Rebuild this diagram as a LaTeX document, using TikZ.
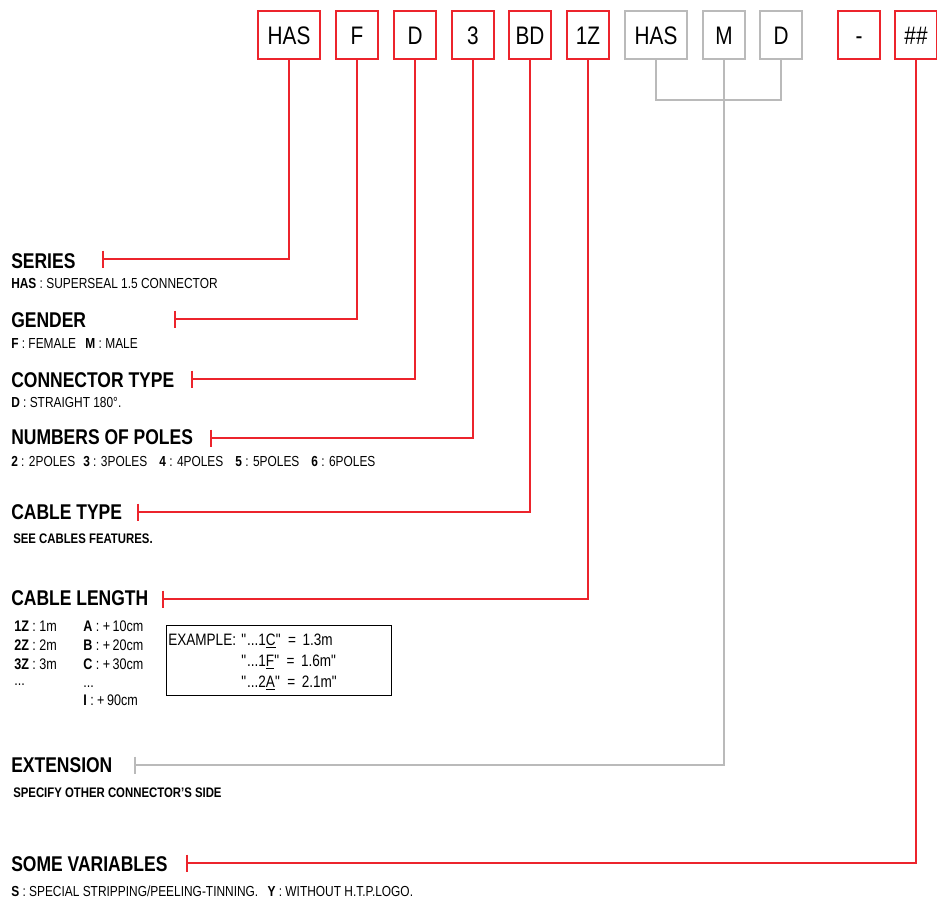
\documentclass[tikz,border=0pt]{standalone}
\usepackage{fontspec}
\setmainfont[FakeStretch=0.82]{Liberation Sans}
\definecolor{hred}{RGB}{236,36,44}
\definecolor{hgray}{RGB}{186,186,186}
\newcommand{\qq}{\textquotedbl}
\begin{document}
\begin{tikzpicture}[x=0.75pt,y=-0.75pt,
  codebox/.style={draw=hred,line width=0.9pt,minimum height=36pt,inner sep=0pt,
    font=\fontsize{19}{19}\selectfont,text height=13.6pt,text depth=0pt},
  wide/.style={minimum width=46.5pt},
  narrow/.style={minimum width=31.5pt},
  graybox/.style={draw=hgray},
  head/.style={anchor=base west,inner sep=0pt,font=\bfseries\fontsize{16}{16}\selectfont},
  desc/.style={anchor=base west,inner sep=0pt,font=\fontsize{10.9}{12}\selectfont},
  tdesc/.style={anchor=base west,inner sep=0pt,font=\fontsize{11.5}{12}\selectfont},
  bdesc/.style={anchor=base west,inner sep=0pt,font=\bfseries\fontsize{10.4}{12}\selectfont},
  extext/.style={anchor=base west,inner sep=0pt,font=\fontsize{12.4}{14}\selectfont},
  lead/.style={draw=hred,line width=0.95pt},
  leadg/.style={draw=hgray,line width=0.95pt},
]
\useasboundingbox (0,0) rectangle (937,899);

% code boxes
\node[codebox,wide]   (bHAS)  at (289,35) {HAS};
\node[codebox,narrow] (bF)    at (357,35) {F};
\node[codebox,narrow] (bD)    at (415,35) {D};
\node[codebox,narrow] (b3)    at (473,35) {3};
\node[codebox,narrow] (bBD)   at (530,35) {BD};
\node[codebox,narrow] (b1Z)   at (588,35) {1Z};
\node[codebox,wide,graybox]   (bHAS2) at (656,35) {HAS};
\node[codebox,narrow,graybox] (bM)    at (724,35) {M};
\node[codebox,narrow,graybox] (bD2)   at (781,35) {D};
\node[codebox,narrow] (bdash) at (859,35) {-};
\node[codebox,narrow] (bvar)  at (916,35) {\#\#};

% tick coordinates
\coordinate (tSER) at (103,259);
\coordinate (tGEN) at (175,319);
\coordinate (tCON) at (192,379);
\coordinate (tPOL) at (211,438);
\coordinate (tCTY) at (138,512);
\coordinate (tCLE) at (163,599);
\coordinate (tEXT) at (135,765);
\coordinate (tVAR) at (187,863);
\coordinate (br)   at (700,100);

% leaders
\draw[lead] (bHAS.south) |- (tSER);
\draw[lead] (bF.south) |- (tGEN);
\draw[lead] (bD.south) |- (tCON);
\draw[lead] (b3.south) |- (tPOL);
\draw[lead] (bBD.south) |- (tCTY);
\draw[lead] (b1Z.south) |- (tCLE);
\draw[lead] (bvar.south) |- (tVAR);
\draw[leadg] (bHAS2.south) |- (br) -| (bD2.south);
\draw[leadg] (bM.south) |- (tEXT);
\foreach \t in {tSER,tGEN,tCON,tPOL,tCTY,tCLE,tVAR}
  \draw[lead] (\t) ++(0,-8.5) -- ++(0,17);
\draw[leadg] (tEXT) ++(0,-8.5) -- ++(0,17);

% headings and descriptions
\node[head] (hSER) at (11,268) {SERIES};
\node[desc] (dSER) at (11,288) {\textbf{HAS} : SUPERSEAL 1.5 CONNECTOR};
\node[head] (hGEN) at (11,327) {GENDER};
\node[desc] (dGEN) at (11,348) {\textbf{F} : FEMALE\hspace{7pt}\textbf{M} : MALE};
\node[head] (hCON) at (11,387) {CONNECTOR TYPE};
\node[desc] (dCON) at (11,407) {\textbf{D} : STRAIGHT 180°.};
\node[head] (hPOL) at (11,444) {NUMBERS OF POLES};
\node[desc] (dPOL) at (11,466) {\textbf{2} : 2POLES\hspace{6pt}\textbf{3} : 3POLES\hspace{9pt}\textbf{4} : 4POLES\hspace{9pt}\textbf{5} : 5POLES\hspace{9pt}\textbf{6} : 6POLES};
\node[head] (hCTY) at (11,519) {CABLE TYPE};
\node[bdesc] (dCTY) at (13,543) {SEE CABLES FEATURES.};
\node[head] (hCLE) at (11,605) {CABLE LENGTH};
\node[tdesc] (l1) at (14,631) {\textbf{1Z} : 1m};
\node[tdesc] (l2) at (14,650) {\textbf{2Z} : 2m};
\node[tdesc] (l3) at (14,669) {\textbf{3Z} : 3m};
\node[tdesc] (l4) at (14,685) {...};
\node[tdesc] (m1) at (83,631) {\textbf{A} : +\,10cm};
\node[tdesc] (m2) at (83,650) {\textbf{B} : +\,20cm};
\node[tdesc] (m3) at (83,669) {\textbf{C} : +\,30cm};
\node[tdesc] (m4) at (83,687) {...};
\node[tdesc] (m5) at (83,705) {\textbf{I} : +\,90cm};

\node[draw=black,line width=0.8pt,anchor=north west,inner sep=0pt,
      minimum width=168.75pt,minimum height=52.5pt] (exbox) at (166,625) {};
\node[extext] (ex0) at (168,645) {EXAMPLE:};
\node[extext] (ex1) at (241,645) {\qq...1\underline{C}\qq\ \,=\, 1.3m};
\node[extext] (ex2) at (241,666) {\qq...1\underline{F}\qq\ \,=\, 1.6m\qq};
\node[extext] (ex3) at (241,687) {\qq...2\underline{A}\qq\ \,=\, 2.1m\qq};

\node[head] (hEXT) at (11,772) {EXTENSION};
\node[bdesc] (dEXT) at (13,797) {SPECIFY OTHER CONNECTOR'S SIDE};
\node[head] (hVAR) at (11,871) {SOME VARIABLES};
\node[desc] (dVAR) at (11,896) {\textbf{S} : SPECIAL STRIPPING/PEELING-TINNING.\hspace{7pt}\textbf{Y} : WITHOUT H.T.P.LOGO.};
\end{tikzpicture}
\end{document}
